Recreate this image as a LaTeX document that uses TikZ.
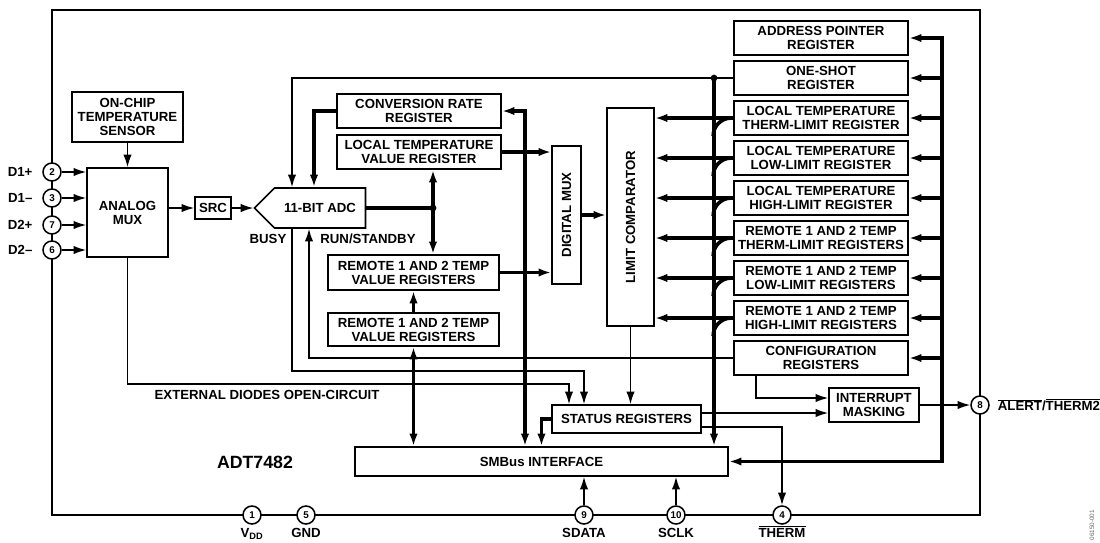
\documentclass[tikz,border=0pt]{standalone}
\usepackage{fontspec}
\setmainfont{Liberation Sans}
\usetikzlibrary{positioning}
\usetikzlibrary{calc}
\usetikzlibrary{arrows.meta,shapes.symbols}

\begin{document}
\begin{tikzpicture}[x=0.025cm,y=-0.025cm,font=\bfseries\fontsize{9.4}{9.9}\selectfont]
\tikzstyle{box} =[rectangle,draw=black,line width=1.1pt,align=center,inner sep=0pt]
\tikzstyle{reg} =[box,minimum width=4.35cm,minimum height=0.85cm]
\tikzstyle{pin} =[circle,draw=black,line width=1.1pt,fill=white,minimum size=0.45cm,inner sep=0pt,font=\bfseries\fontsize{7}{7}\selectfont]
\tikzstyle{wire} =[line width=1.1pt]
\tikzstyle{arr} =[wire,-{Latex[length=9pt,width=6pt]}]
\tikzstyle{bus} =[line width=2.6pt]
\tikzstyle{busarr} =[bus,-{Latex[length=9pt,width=6pt]}]
\tikzstyle{dbus} =[bus,{Latex[length=9pt,width=6pt]}-{Latex[length=9pt,width=6pt]}]
\useasboundingbox (0,0) rectangle (1100,542);

% chip outline
\draw[wire] (52,10) rectangle (980,515);

% analog front end
\node[box,minimum width=2.775cm,minimum height=1.25cm](sensor) at (127.5,117) {ON-CHIP\\TEMPERATURE\\SENSOR};
\node[box,minimum width=2.025cm,minimum height=2.225cm](amux) at (127.5,212.5) {ANALOG\\MUX};
\node[box,minimum width=0.9cm,minimum height=0.55cm](src) at (213,208) {SRC};
\node[draw,line width=1.1pt,signal,signal to=west,signal from=nowhere,signal pointer angle=90,minimum width=2.775cm,minimum height=1cm,inner sep=0pt](adc) at (320,208) {11-BIT ADC};

% value registers
\node[box,minimum width=4.1cm,minimum height=0.85cm](conv) at (419,111) {CONVERSION RATE\\REGISTER};
\node[box,minimum width=4.1cm,minimum height=0.85cm](ltv) at (419,152) {LOCAL TEMPERATURE\\VALUE REGISTER};
\node[box,minimum width=4.275cm,minimum height=0.875cm](rtv1) at (413.5,272.5) {REMOTE 1 AND 2 TEMP\\VALUE REGISTERS};
\node[box,minimum width=4.275cm,minimum height=0.825cm](rtv2) at (413.5,329.5) {REMOTE 1 AND 2 TEMP\\VALUE REGISTERS};

\node[box,minimum width=0.725cm,minimum height=3.45cm,label={[rotate=90]center:DIGITAL MUX}](dmux) at (566.5,215) {};
\node[box,minimum width=1.175cm,minimum height=5.45cm,label={[rotate=90]center:LIMIT COMPARATOR}](lcomp) at (630.5,217) {};
\node[box,minimum width=3.725cm,minimum height=0.7cm](status) at (626.5,419) {STATUS REGISTERS};
\node[box,minimum width=9.325cm,minimum height=0.725cm](smbus) at (541.5,461.5) {SMBus INTERFACE};
\node[box,minimum width=2.25cm,minimum height=0.85cm](intm) at (874,405) {INTERRUPT\\MASKING};

% register stack
\node[reg](addr) at (821,38) {ADDRESS POINTER\\REGISTER};
\node[reg](oneshot) at (821,78) {ONE-SHOT\\REGISTER};
\node[reg](ltherm) at (821,118) {LOCAL TEMPERATURE\\THERM-LIMIT REGISTER};
\node[reg](llow) at (821,158) {LOCAL TEMPERATURE\\LOW-LIMIT REGISTER};
\node[reg](lhigh) at (821,198) {LOCAL TEMPERATURE\\HIGH-LIMIT REGISTER};
\node[reg](rtherm) at (821,238) {REMOTE 1 AND 2 TEMP\\THERM-LIMIT REGISTERS};
\node[reg](rlow) at (821,278) {REMOTE 1 AND 2 TEMP\\LOW-LIMIT REGISTERS};
\node[reg](rhigh) at (821,318) {REMOTE 1 AND 2 TEMP\\HIGH-LIMIT REGISTERS};
\node[reg](config) at (821,358) {CONFIGURATION\\REGISTERS};

% pins
\node[pin](p2) at (52,172) {2};
\node[pin](p3) at (52,198) {3};
\node[pin](p7) at (52,225) {7};
\node[pin](p6) at (52,250) {6};
\node[pin](p1) at (252,515) {1};
\node[pin](p5) at (306,515) {5};
\node[pin](p9) at (584,515) {9};
\node[pin](p10) at (676,515) {10};
\node[pin](p4) at (782,515) {4};
\node[pin](p8) at (980,405) {8};

\node[left=0.12cm of p2]{D1+};
\node[left=0.12cm of p3]{D1--};
\node[left=0.12cm of p7]{D2+};
\node[left=0.12cm of p6]{D2--};
\node[anchor=base] at ([yshift=-0.55cm]p1.center) {V\textsubscript{DD}};
\node[anchor=base] at ([yshift=-0.55cm]p5.center) {GND};
\node[anchor=base] at ([yshift=-0.55cm]p9.center) {SDATA};
\node[anchor=base] at ([yshift=-0.55cm]p10.center) {SCLK};
\node[anchor=base] at ([yshift=-0.55cm]p4.center) {$\overline{\mbox{THERM}}$};
\node[right=0.08cm of p8]{$\overline{\mbox{ALERT}}$/$\overline{\mbox{THERM2}}$};

% analog path
\draw[arr] (p2.east)--(amux.west |- p2);
\draw[arr] (p3.east)--(amux.west |- p3);
\draw[arr] (p7.east)--(amux.west |- p7);
\draw[arr] (p6.east)--(amux.west |- p6);
\draw[arr] (sensor.south)--(amux.north);
\draw[arr] (amux.east |- src)--(src.west);
\draw[arr] (src.east)--(adc.west);

\coordinate (adcdot) at (433,208);
\draw[bus] (adc.east)--(adcdot);
\fill (adcdot) circle (2.4pt);
\draw[dbus] (ltv.south -| adcdot)--(rtv1.north -| adcdot);

\draw[busarr] (conv.west) -| ([xshift=-0.15cm]adc.north);
\coordinate (osdot) at (714,78);
\draw[arr] (oneshot.west) -| ([xshift=-0.7cm]adc.north);
\fill (osdot) circle (2.4pt);
\draw[busarr] (osdot)--(smbus.north -| osdot);

% values to mux and comparator
\draw[busarr] (ltv.east)--(dmux.west |- ltv.east);
\draw[busarr] (rtv1.east)--(dmux.west |- rtv1.east);
\draw[busarr] (rtv2.north)--(rtv1.south);
\draw[dbus] (rtv2.south)--(smbus.north -| rtv2.south);
\draw[dbus] (conv.east) -| ([xshift=-0.4125cm]smbus.north);
\draw[busarr] (dmux.east)--(lcomp.west |- dmux.east);

% limits into comparator
\draw[busarr] (ltherm.west)--(lcomp.east |- ltherm.west);
\draw[bus,rounded corners=0.45cm] ([xshift=-0.5cm,yshift=-0.45cm]ltherm.west) |- (ltherm.west);
\draw[busarr] (llow.west)--(lcomp.east |- llow.west);
\draw[bus,rounded corners=0.45cm] ([xshift=-0.5cm,yshift=-0.45cm]llow.west) |- (llow.west);
\draw[busarr] (lhigh.west)--(lcomp.east |- lhigh.west);
\draw[bus,rounded corners=0.45cm] ([xshift=-0.5cm,yshift=-0.45cm]lhigh.west) |- (lhigh.west);
\draw[busarr] (rtherm.west)--(lcomp.east |- rtherm.west);
\draw[bus,rounded corners=0.45cm] ([xshift=-0.5cm,yshift=-0.45cm]rtherm.west) |- (rtherm.west);
\draw[busarr] (rlow.west)--(lcomp.east |- rlow.west);
\draw[bus,rounded corners=0.45cm] ([xshift=-0.5cm,yshift=-0.45cm]rlow.west) |- (rlow.west);
\draw[busarr] (rhigh.west)--(lcomp.east |- rhigh.west);
\draw[bus,rounded corners=0.45cm] ([xshift=-0.5cm,yshift=-0.45cm]rhigh.west) |- (rhigh.west);

% register bus
\coordinate (rbtop) at (942,38);
\draw[dbus] (smbus.east) -| (rbtop) -- (addr.east);
\draw[busarr] (rbtop |- oneshot)--(oneshot.east);
\draw[busarr] (rbtop |- ltherm)--(ltherm.east);
\draw[busarr] (rbtop |- llow)--(llow.east);
\draw[busarr] (rbtop |- lhigh)--(lhigh.east);
\draw[busarr] (rbtop |- rtherm)--(rtherm.east);
\draw[busarr] (rbtop |- rlow)--(rlow.east);
\draw[busarr] (rbtop |- rhigh)--(rhigh.east);
\draw[busarr] (rbtop |- config)--(config.east);

% control lines
\coordinate (busyk) at (292,371);
\draw[arr] ([xshift=-0.7cm]adc.south) -- (busyk) -| ([xshift=-1.0625cm]status.north);
\draw[arr] (config.west) -| ([xshift=-0.275cm]adc.south);
\coordinate (extk) at (127.5,384);
\draw[arr] (amux.south) -- (extk) -| ([xshift=-1.4375cm]status.north);
\draw[arr] (lcomp.south) -- (status.north -| lcomp.south);

\draw[busarr] (status.west) -| (smbus.north);
\draw[arr] ([yshift=0.15cm]status.east) -- ([yshift=-0.2cm]intm.west);
\draw[arr] ([yshift=-0.2cm]status.east) -| (p4.north);
\draw[arr] ([xshift=-1.625cm]config.south) |- ([yshift=0.175cm]intm.west);
\draw[arr] (intm.east) -- (p8.west);
\draw[arr] (p9.north) -- (smbus.south -| p9);
\draw[arr] (p10.north) -- (smbus.south -| p10);

% labels
\node at (268,239) {BUSY};
\node at (368,239) {RUN/STANDBY};
\node at (267,395) {EXTERNAL DIODES OPEN-CIRCUIT};
\node[font=\bfseries\fontsize{12.6}{13}\selectfont] at (255,462) {ADT7482};
\node[rotate=90,anchor=east,text=black!60,font=\fontsize{4.5}{5}\selectfont] at (1092,505) {06150-001};
\end{tikzpicture}
\end{document}
